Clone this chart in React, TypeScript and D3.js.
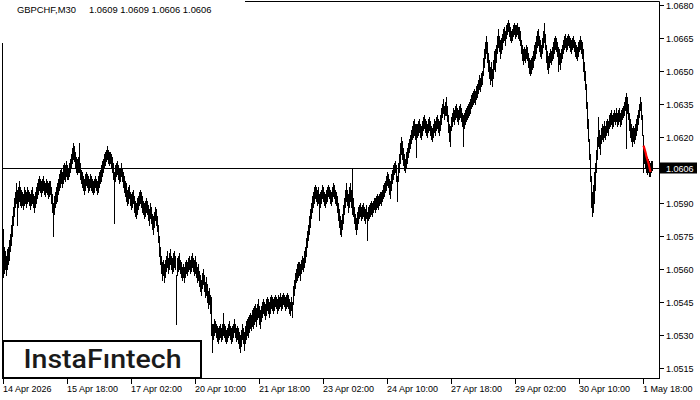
import React from "react";
import * as d3 from "d3";

const symbolLabel = "GBPCHF,M30";
const lastOhlc = ["1.0609", "1.0609", "1.0606", "1.0606"];
const lastPrice = 1.0606;
const basePrice = 1.05;
const pipSize = 0.0001;

// bar lows / highs in pips above 1.0500 (M30 bars, one per bar)
const lows = [
  56,58,60,57,60,62,64,68,71,75,80,84,88,90,80,88,91,89,88,89,
  87,89,90,88,90,91,89,87,89,90,88,86,88,90,92,94,96,95,93,95,
  96,94,93,95,94,92,93,94,90,86,75,85,88,90,91,94,96,97,99,97,
  99,101,100,102,101,101,102,104,106,108,110,109,106,104,103,104,104,101,99,97,
  96,94,96,98,97,95,96,97,96,95,94,95,97,96,94,95,97,99,100,102,
  104,106,107,109,110,108,107,108,106,104,101,81,100,102,103,101,99,100,102,100,
  97,95,93,91,89,90,92,89,87,88,90,86,84,83,85,87,89,90,88,86,
  85,83,84,86,85,82,80,83,81,78,76,79,82,80,77,72,66,62,58,55,
  57,54,56,59,61,58,60,62,60,58,59,61,60,35,57,59,60,58,56,55,
  56,54,56,58,57,59,60,58,59,61,59,57,58,56,54,55,52,50,48,51,
  53,50,47,48,45,42,44,40,30,22,28,30,31,29,27,26,28,29,27,28,
  30,29,27,26,27,29,30,28,26,27,29,31,29,27,28,26,24,22,25,28,
  26,23,26,28,30,29,31,33,32,34,33,35,36,34,37,38,35,33,36,38,
  40,39,37,39,41,40,38,40,42,41,40,41,43,42,40,41,42,43,41,42,
  44,43,41,42,43,42,40,39,41,38,44,48,51,54,55,56,57,55,58,60,
  59,61,63,66,70,73,76,79,83,86,88,90,92,91,89,90,82,88,90,92,
  91,89,88,90,91,93,92,90,89,91,93,92,90,89,86,82,79,76,75,78,
  81,85,88,91,89,86,88,91,88,85,84,81,78,76,78,81,83,84,82,83,
  84,82,81,83,73,82,83,84,85,84,86,87,86,87,88,87,89,90,89,91,
  92,93,95,96,98,97,94,92,96,99,101,103,104,100,91,100,104,108,112,110,
  107,105,104,106,108,111,113,115,117,119,120,121,119,111,120,121,122,120,119,121,
  123,124,122,121,120,122,123,121,119,118,120,122,121,123,124,122,121,123,126,129,
  131,128,130,130,127,122,118,116,123,125,127,126,128,129,127,126,128,129,127,125,
  116,124,126,127,128,129,130,131,133,134,135,136,135,137,138,140,142,141,143,144,
  148,152,156,158,154,150,147,144,146,143,147,151,150,154,158,161,159,156,158,160,
  163,164,162,165,167,168,166,164,163,164,166,167,165,166,167,165,164,162,158,155,
  153,155,154,156,155,152,149,148,149,151,152,155,156,158,161,162,159,157,156,158,
  161,163,160,154,151,149,152,154,153,155,156,158,160,159,157,150,153,151,154,156,
  158,160,161,159,160,162,161,159,158,160,161,159,157,156,155,157,159,160,158,156,
  150,146,142,133,124,118,110,100,88,84,86,90,96,104,110,116,115,112,117,119,
  118,120,119,121,122,121,124,125,126,124,125,127,126,127,125,126,127,125,126,128,
  129,130,132,115,131,128,123,120,118,116,118,117,119,121,123,126,129,132,128,121,
  104,108,106,104,103,104,102,102,104,105,
];
const highs = [
  78,70,68,66,69,70,73,76,80,84,88,92,95,99,96,97,100,97,96,95,
  94,97,96,95,97,96,95,94,96,97,94,93,95,97,99,101,102,101,100,101,
  102,100,99,101,100,99,100,100,97,94,90,93,95,97,99,101,103,105,106,104,
  107,108,107,109,107,106,108,110,112,115,117,116,113,111,110,111,117,108,105,104,
  102,101,103,104,103,102,101,103,102,101,100,101,102,101,100,102,104,105,107,109,
  110,112,113,114,116,114,113,113,112,111,108,104,107,108,109,107,106,106,108,106,
  104,102,100,99,96,97,98,95,94,95,96,93,91,90,92,93,95,96,95,93,
  91,90,91,92,91,89,87,90,88,85,84,86,88,87,84,80,75,70,66,63,
  64,62,64,66,68,65,67,69,66,65,67,68,66,57,65,66,67,64,63,61,
  62,61,63,64,63,65,66,64,66,67,65,64,66,63,61,62,59,57,55,58,
  60,57,54,56,53,50,51,48,47,35,35,37,36,35,34,33,34,35,33,35,
  40,35,34,32,33,35,36,34,33,34,35,37,35,33,34,33,31,30,32,35,
  33,31,34,36,37,38,39,40,39,41,42,43,44,42,44,46,43,41,43,45,
  46,45,44,46,47,46,45,47,48,47,46,47,48,47,46,48,47,49,47,48,
  49,48,47,48,49,48,46,45,47,45,52,55,58,60,62,63,63,62,64,66,
  65,68,70,74,77,80,84,87,90,93,95,97,98,97,96,97,94,95,96,98,
  97,95,94,96,97,98,97,96,95,97,99,98,96,95,93,90,87,84,82,85,
  89,92,96,99,96,94,97,99,96,106,92,88,85,83,86,88,89,90,88,89,
  90,88,87,89,86,88,89,90,91,90,91,92,92,93,94,93,94,95,95,96,
  98,99,100,102,104,103,101,100,103,105,107,108,109,107,102,108,112,117,120,118,
  115,112,110,113,115,117,119,121,123,125,127,128,126,126,126,127,128,126,125,127,
  129,130,128,127,126,128,129,127,125,124,126,128,127,129,130,128,127,130,133,135,
  137,134,136,138,134,130,126,125,129,131,133,132,134,135,133,132,134,135,133,131,
  130,131,132,133,134,135,136,137,139,140,141,142,141,143,144,146,148,147,149,150,
  156,160,163,166,163,158,155,152,154,151,155,159,160,162,166,169,166,164,165,167,
  169,170,168,171,172,173,172,170,168,169,171,172,171,171,172,170,170,168,164,162,
  160,161,160,162,161,158,156,155,156,157,159,162,163,166,168,169,166,164,162,165,
  168,172,167,162,159,157,158,160,159,161,163,165,166,165,163,161,160,158,160,162,
  164,166,167,165,166,167,166,165,164,165,166,164,163,162,161,163,164,166,164,163,
  160,154,150,144,136,128,119,112,102,95,98,104,108,114,120,129,123,121,124,126,
  125,127,125,127,128,127,130,131,132,130,131,132,131,133,131,132,133,131,132,133,
  134,136,138,140,138,135,131,128,126,124,125,124,126,128,130,132,135,138,136,130,
  121,116,114,112,111,110,109,108,109,109,
];

// red signal line over the latest bars (pips above 1.0500)
const signalStartBar = 640;
const signalLine = [116, 114.5, 113, 111, 109.5, 108, 106, 104];

const priceTicks = [1.068, 1.0665, 1.065, 1.0635, 1.062, 1.059, 1.0575, 1.056, 1.0545, 1.053, 1.0515];
const timeTickBars = [0, 64, 128, 192, 256, 320, 384, 448, 512, 576, 640];
const timeLabels = [
  "14 Apr 2026", "15 Apr 18:00", "17 Apr 02:00", "20 Apr 10:00", "21 Apr 18:00",
  "23 Apr 02:00", "24 Apr 10:00", "27 Apr 18:00", "29 Apr 02:00", "30 Apr 10:00", "1 May 18:00",
];

const FONT = "'Liberation Sans', Arial, sans-serif";

export default function App() {
  const W = 700, H = 400;
  const plotLeft = 2.5, plotRight = 659.5, plotTop = 1.5, plotBottom = 378.5;
  const n = lows.length;
  const x = d3.scaleLinear().domain([0, n]).range([3, 3 + n]);
  const y = d3.scaleLinear().domain([1.0515, 1.068]).range([367.6, 5]);
  const toPrice = (v: number) => basePrice + v * pipSize;
  const snap = (v: number) => Math.round(v) + 0.5;

  let barsPath = "";
  for (let i = 0; i < n; i++) {
    const xx = x(i) + 0.5;
    const y1 = Math.round(y(toPrice(highs[i])));
    const y2 = Math.round(y(toPrice(lows[i]))) + 1;
    barsPath += `M${xx},${y1}V${y2}`;
  }

  const sigLine = d3
    .line<number>()
    .x((_, i) => x(signalStartBar + i) + 0.5)
    .y((d) => y(toPrice(d)));

  const lastY = snap(y(lastPrice));

  return (
    <svg
      width={W}
      height={H}
      style={{ position: "absolute", left: 0, top: 0, display: "block", background: "#fff" }}
    >
      <rect x={0} y={0} width={W} height={H} fill="#fff" />
      {/* frame */}
      <line x1={plotLeft} x2={plotLeft} y1={43} y2={plotBottom} stroke="#000" strokeWidth={1} />
      <line x1={245} x2={plotRight} y1={plotTop} y2={plotTop} stroke="#000" strokeWidth={1} />
      <line x1={plotRight} x2={plotRight} y1={plotTop} y2={plotBottom + 0.5} stroke="#000" strokeWidth={1} />
      <line x1={plotLeft} x2={plotRight} y1={plotBottom} y2={plotBottom} stroke="#000" strokeWidth={1} />

      {/* bars */}
      <path d={barsPath} stroke="#000" strokeWidth={1} fill="none" shapeRendering="crispEdges" />

      {/* last price line */}
      <line x1={plotLeft} x2={plotRight} y1={lastY} y2={lastY} stroke="#000" strokeWidth={1} shapeRendering="crispEdges" />

      {/* signal */}
      <path d={sigLine(signalLine) || ""} stroke="#ff0000" strokeWidth={2.2} fill="none" />

      {/* price axis */}
      {priceTicks.map((p) => {
        const yy = snap(y(p));
        return (
          <g key={p}>
            <line x1={plotRight} x2={plotRight + 4} y1={yy} y2={yy} stroke="#000" shapeRendering="crispEdges" />
            <text x={666} y={yy + 3.5} fontFamily={FONT} fontSize={9} fill="#000">
              {p.toFixed(4)}
            </text>
          </g>
        );
      })}
      <rect x={660} y={lastY - 6} width={37} height={11} fill="#000" />
      <text x={666} y={lastY + 3.5} fontFamily={FONT} fontSize={9} fill="#fff">
        {lastPrice.toFixed(4)}
      </text>

      {/* time axis */}
      {timeTickBars.map((b, i) => {
        const xx = snap(x(b));
        return (
          <g key={b}>
            <line x1={xx} x2={xx} y1={plotBottom} y2={plotBottom + 5} stroke="#000" shapeRendering="crispEdges" />
            <text x={xx - 0.5} y={392} fontFamily={FONT} fontSize={9} fill="#000">
              {timeLabels[i]}
            </text>
          </g>
        );
      })}

      {/* title */}
      <text y={13} fontFamily={FONT} fontSize={9.4} fill="#000">
        <tspan x={17}>{symbolLabel}</tspan>
        <tspan x={89}>{lastOhlc.join(" ")}</tspan>
      </text>

      {/* logo */}
      <rect x={3} y={341} width={198} height={37} fill="#fff" stroke="#000" strokeWidth={2} />
      <text
        x={23.5}
        y={367.5}
        fontFamily="Roboto, 'Open Sans', sans-serif"
        fontWeight={500}
        fontSize={26}
        textLength={158}
        lengthAdjust="spacingAndGlyphs"
        fill="#1a1a1a"
      >
        InstaFıntech
      </text>
    </svg>
  );
}
